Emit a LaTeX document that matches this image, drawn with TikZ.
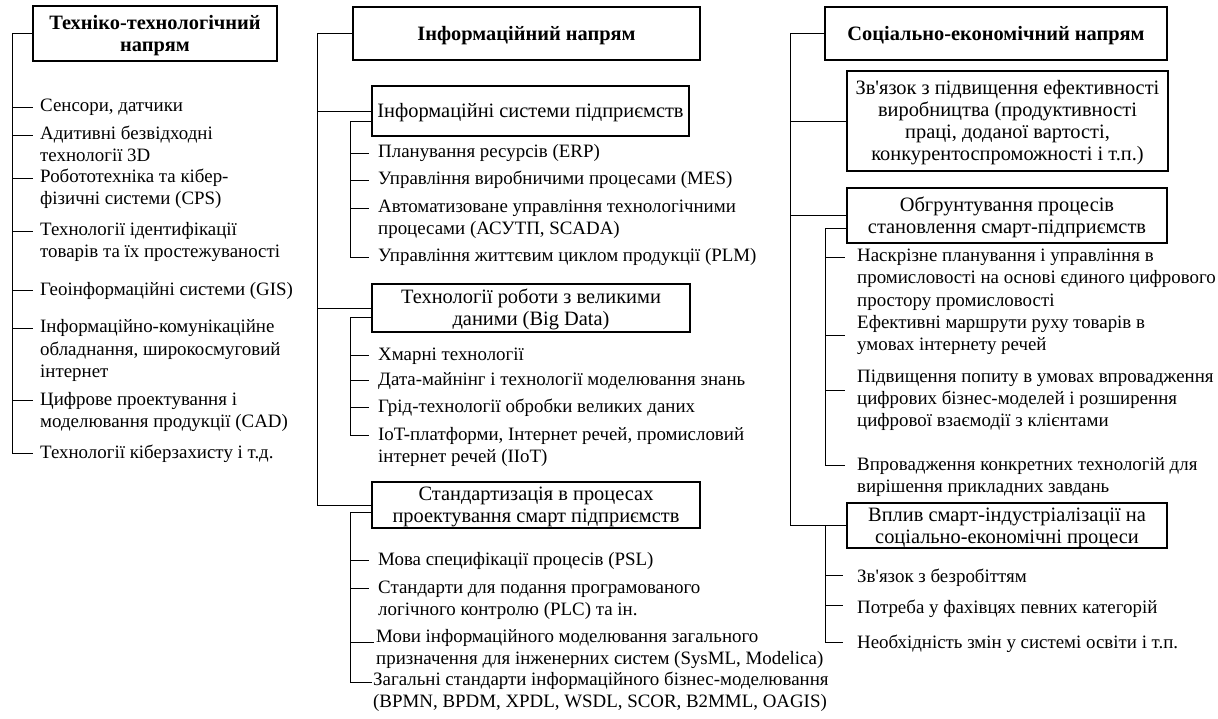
\documentclass[tikz,border=0pt]{standalone}
\usepackage{fontspec}
\setmainfont{Liberation Serif}[Ligatures=TeXOff]
% stacked lines: the node baseline is the baseline of the first line
\newcommand\lstack[1]{\vtop{\baselineskip=22pt\lineskiplimit=-50pt\lineskip=0pt\halign{##\hfil\cr#1\crcr}}}
\newcommand\cstack[1]{\vtop{\baselineskip=22pt\lineskiplimit=-50pt\lineskip=0pt\halign{\hfil##\hfil\cr#1\crcr}}}
% list entry: name, trunk x, tick y, gap to text, text x, first baseline y, text
\newcommand\itm[7]{%
  \coordinate (#1t) at (#2,#3);
  \node[item] (#1) at (#5,#6) {\lstack{#7}};
  \draw[wire] (#1t) -- ([xshift=-#4pt]#1t -| #1.west);
}
\begin{document}
\begin{tikzpicture}[x=1pt,y=-1pt,
  every node/.style={inner sep=0pt},
  hbox/.style={draw, line width=1.7pt, rectangle, text height=13.4pt,
    font=\fontsize{20.4}{22}\selectfont},
  item/.style={anchor=base west, font=\fontsize{18.9}{22}\selectfont},
  wire/.style={line width=0.9pt}]
\useasboundingbox (0,0) rectangle (1218,719);

% ---------- headings and group boxes ----------
\node[hbox, minimum width=244pt, minimum height=55pt, text depth=22pt] (L1) at (155,33.5)
  {\bfseries\cstack{Техніко-технологічний\cr напрям}};
\node[hbox, minimum width=347pt, minimum height=53pt, text depth=0pt] (M1) at (526.5,33.5)
  {\bfseries\cstack{Інформаційний напрям}};
\node[hbox, minimum width=317pt, minimum height=50pt, text depth=0pt] (M2) at (530.5,111)
  {\cstack{Інформаційні системи підприємств}};
\node[hbox, minimum width=318pt, minimum height=48pt, text depth=22pt] (M3) at (531,308)
  {\cstack{Технології роботи з великими\cr даними (Big Data)}};
\node[hbox, minimum width=328pt, minimum height=46pt, text depth=22pt] (M4) at (536,505)
  {\cstack{Стандартизація в процесах\cr проектування смарт підприємств}};
\node[hbox, minimum width=342pt, minimum height=53pt, text depth=0pt] (R1) at (996,33.5)
  {\bfseries\cstack{Соціально-економічний напрям}};
\node[hbox, minimum width=321pt, minimum height=100pt, text depth=66pt] (R2) at (1007.5,121)
  {\cstack{Зв'язок з підвищення ефективності\cr виробництва (продуктивності\cr праці, доданої вартості,\cr конкурентоспроможності і т.п.)}};
\node[hbox, minimum width=320pt, minimum height=55pt, text depth=22pt] (R3) at (1007,215.5)
  {\cstack{Обгрунтування процесів\cr становлення смарт-підприємств}};
\node[hbox, minimum width=320pt, minimum height=45pt, text depth=22pt] (R4) at (1007,525.5)
  {\cstack{Вплив смарт-індустріалізації на\cr соціально-економічні процеси}};

% ---------- left column ----------
\itm{l1}{12}{107}{7}{40}{112}{Сенсори, датчики}
\itm{l2}{12}{135}{7}{40}{140}{Адитивні безвідходні\cr технології 3D}
\itm{l3}{12}{178}{7}{40}{183}{Робототехніка та кібер-\cr фізичні системи (CPS)}
\itm{l4}{12}{231}{7}{40}{236}{Технології ідентифікації\cr товарів та їх простежуваності}
\itm{l5}{12}{290}{7}{40}{295}{Геоінформаційні системи (GIS)}
\itm{l6}{12}{328}{7}{40}{333}{Інформаційно-комунікаційне\cr обладнання, широкосмуговий\cr інтернет}
\itm{l7}{12}{400}{7}{40}{405}{Цифрове проектування і\cr моделювання продукції (CAD)}
\itm{l8}{12}{453}{7}{40}{458}{Технології кіберзахисту і т.д.}
\draw[wire] (L1.west) -| (l8t);

% ---------- middle column ----------
\itm{a1}{350}{153}{9}{378}{158}{Планування ресурсів (ERP)}
\itm{a2}{350}{180}{9}{378}{185}{Управління виробничими процесами (MES)}
\itm{a3}{350}{208}{9}{378}{213}{Автоматизоване управління технологічними\cr процесами (АСУТП, SCADA)}
\itm{a4}{350}{257}{9}{378}{262}{Управління життєвим циклом продукції (PLM)}
\itm{b1}{350}{355}{9}{378}{360}{Хмарні технології}
\itm{b2}{350}{380}{9}{378}{385}{Дата-майнінг і технології моделювання знань}
\itm{b3}{350}{407}{9}{378}{412}{Грід-технології обробки великих даних}
\itm{b4}{350}{435}{9}{378}{440}{IoT-платформи, Інтернет речей, промисловий\cr інтернет речей (IIoT)}
\itm{c1}{350}{560}{9}{378}{565}{Мова специфікації процесів (PSL)}
\itm{c2}{350}{588}{9}{378}{593}{Стандарти для подання програмованого\cr логічного контролю (PLC) та ін.}
\itm{c3}{350}{642}{2}{376}{642}{Мови інформаційного моделювання загального\cr призначення для інженерних систем (SysML, Modelica)}
\itm{c4}{350}{682}{1}{373}{685}{Загальні стандарти інформаційного бізнес-моделювання\cr (BPMN, BPDM, XPDL, WSDL, SCOR, B2MML, OAGIS)}
\coordinate (mB) at (317,505);
\draw[wire] (M1.west) -| (mB) -- (M4.west);
\draw[wire] (M2.west) -- (M2.west -| mB);
\draw[wire] (M3.west) -- (M3.west -| mB);
\draw[wire] ([yshift=-10pt]M2.west) -| (a4t);
\draw[wire] ([yshift=-9pt]M3.west) -| (b4t);
\draw[wire] ([yshift=-7pt]M4.west) -| (c4t);

% ---------- right column ----------
\itm{d1}{825}{257}{12}{857}{262}{Наскрізне планування і управління в\cr промисловості на основі єдиного цифрового\cr простору промисловості}
\itm{d2}{825}{335}{12}{857}{328}{Ефективні маршрути руху товарів в\cr умовах інтернету речей}
\itm{d3}{825}{390}{12}{857}{382}{Підвищення попиту в умовах впровадження\cr цифрових бізнес-моделей і розширення\cr цифрової взаємодії з клієнтами}
\itm{d4}{825}{465}{12}{857}{470}{Впровадження конкретних технологій для\cr вирішення прикладних завдань}
\itm{e1}{825}{575}{14}{857}{582}{Зв'язок з безробіттям}
\itm{e2}{825}{605}{14}{857}{613}{Потреба у фахівцях певних категорій}
\itm{e3}{825}{642}{14}{857}{648}{Необхідність змін у системі освіти і т.п.}
\coordinate (rB) at (790,525.5);
\draw[wire] (R1.west) -| (rB) -- (R4.west);
\draw[wire] (R2.west) -- (R2.west -| rB);
\draw[wire] (R3.west) -- (R3.west -| rB);
\draw[wire] ([yshift=-12.5pt]R3.west) -| (d4t);
\draw[wire] (R4.west -| d4t) -- (e3t);
\end{tikzpicture}
\end{document}
